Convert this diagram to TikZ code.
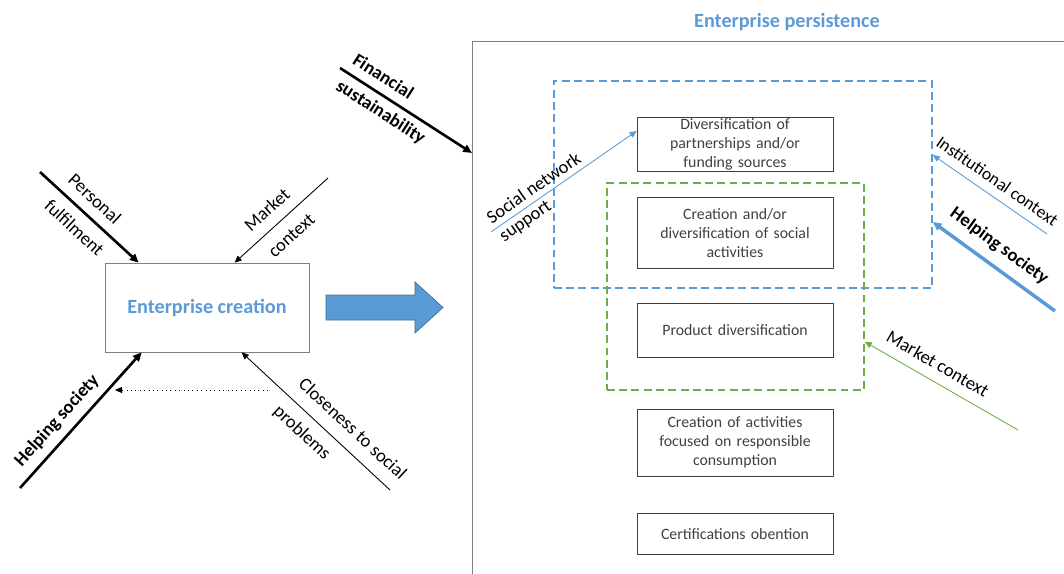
\documentclass[tikz,border=0pt]{standalone}
\usepackage{fontspec}
\setmainfont{Carlito}
\usepackage{tikz}
\usetikzlibrary{arrows.meta, positioning}
\definecolor{officeblue}{RGB}{91,155,213}
\definecolor{officegreen}{RGB}{112,173,71}
\definecolor{boxgray}{RGB}{64,64,64}
\definecolor{framegray}{RGB}{128,128,128}

\begin{document}
\begin{tikzpicture}[x=0.02cm, y=-0.02cm,
    font=\fontsize{9}{10.8}\selectfont,
    stage/.style={rectangle, draw=boxgray, text=boxgray, text width=3.78cm, align=center, inner xsep=2pt, inner ysep=0pt},
    group/.style={draw, line width=1pt, dash pattern=on 4.5pt off 2.5pt, anchor=north west, inner sep=0pt},
    factor/.style={font=\fontsize{10.5}{20}\selectfont, text=black, sloped, align=left, inner sep=1pt},
    strong/.style={factor, font=\fontsize{10.5}{20}\selectfont\bfseries},
    heavy/.style={line width=1.5pt, -{Triangle[length=5pt,width=4.5pt]}},
    light/.style={line width=0.5pt, -{Triangle[length=4pt,width=3.5pt]}}]

    \useasboundingbox (0,0) rectangle (1064,574);
    \clip (0,0) rectangle (1064,574);

    % enterprise creation
    \node[draw=framegray, minimum width=4.08cm, minimum height=1.78cm, text=officeblue,
          font=\fontsize{11.5}{14}\selectfont\bfseries] (creation) at (207,307.5) {Enterprise creation};

    \coordinate (pf) at (40,172);
    \coordinate (mc) at (328,178);
    \coordinate (hs) at (20,488);
    \coordinate (cs) at (390,490);
    \coordinate (dotA) at (268,390);
    \coordinate (dotB) at (115,390);

    \draw[heavy] (pf) -- node[factor, pos=0.47] {Personal\\fulfilment} ([xshift=0.68cm]creation.north west);
    \draw[light] (mc) -- node[factor, pos=0.52] {Market\\context} ([xshift=2.6cm]creation.north west);
    \draw[heavy] (hs) -- node[strong, above=3.5pt, pos=0.41] {Helping society} ([xshift=0.74cm]creation.south west);
    \draw[light] (cs) -- node[factor, font=\fontsize{10.5}{21}\selectfont, pos=0.34] {Closeness to social\\problems} ([xshift=2.74cm]creation.south west);
    \draw[light, dotted] (dotA) -- (dotB);

    % transition
    \fill[officeblue, draw=officeblue!70!black, line width=0.4pt]
        (326,295) -- (415,295) -- (415,282) -- (443,307.5) -- (415,333) -- (415,320) -- (326,320) -- cycle;

    % enterprise persistence
    \node[text=officeblue, font=\fontsize{11.5}{14}\selectfont\bfseries] (title) at (787,22) {Enterprise persistence};
    \node[draw=framegray, line width=0.8pt, anchor=north west, minimum width=12.4cm, minimum height=11.2cm, inner sep=0pt] (frame) at (472,41) {};

    \node[group, draw=officeblue, minimum width=7.56cm, minimum height=4.14cm] (netbox) at (553,80) {};
    \node[group, draw=officegreen, minimum width=5.14cm, minimum height=4.14cm] (greenbox) at (606,182) {};

    \node[stage, minimum height=1.08cm] (partners) at (735,144) {Diversification of\\partnerships and/or\\funding sources};
    \node[stage, minimum height=1.42cm, below=0.52cm of partners] (social) {Creation and/or\\diversification of social\\activities};
    \node[stage, minimum height=1.08cm, below=0.68cm of social] (product) {Product diversification};
    \node[stage, minimum height=1.34cm, below=1.02cm of product] (consumption) {Creation of activities\\focused on responsible\\consumption};
    \node[stage, minimum height=0.82cm, below=0.74cm of consumption] (certif) {Certifications obention};

    \coordinate (fs) at (340,68);
    \coordinate (sn) at (491,232);
    \coordinate (ic) at (1047,234);
    \coordinate (hr) at (1055,311);
    \coordinate (mr) at (1018,430);

    \draw[heavy] (fs) -- node[strong, font=\fontsize{10.5}{17.5}\selectfont\bfseries, pos=0.37] {Financial\\sustainability} ([yshift=-2.24cm]frame.north west);
    \draw[light, officeblue] (sn) -- node[factor, font=\fontsize{10.5}{12.5}\selectfont, pos=0.34] {Social network\\support} ([yshift=0.26cm]partners.west);
    \draw[light, officeblue] (ic) -- node[factor, font=\fontsize{10}{12}\selectfont, above=4pt, pos=0.51] {Institutional context} ([yshift=-1.5cm]netbox.north east);
    \draw[heavy, officeblue, line width=2pt] (hr) -- node[strong, above=4.5pt, pos=0.55] {Helping society} ([yshift=-2.84cm]netbox.north east);
    \draw[light, officegreen] (mr) -- node[factor, above=5pt, pos=0.58] {Market context} ([yshift=0.98cm]greenbox.south east);
\end{tikzpicture}
\end{document}
